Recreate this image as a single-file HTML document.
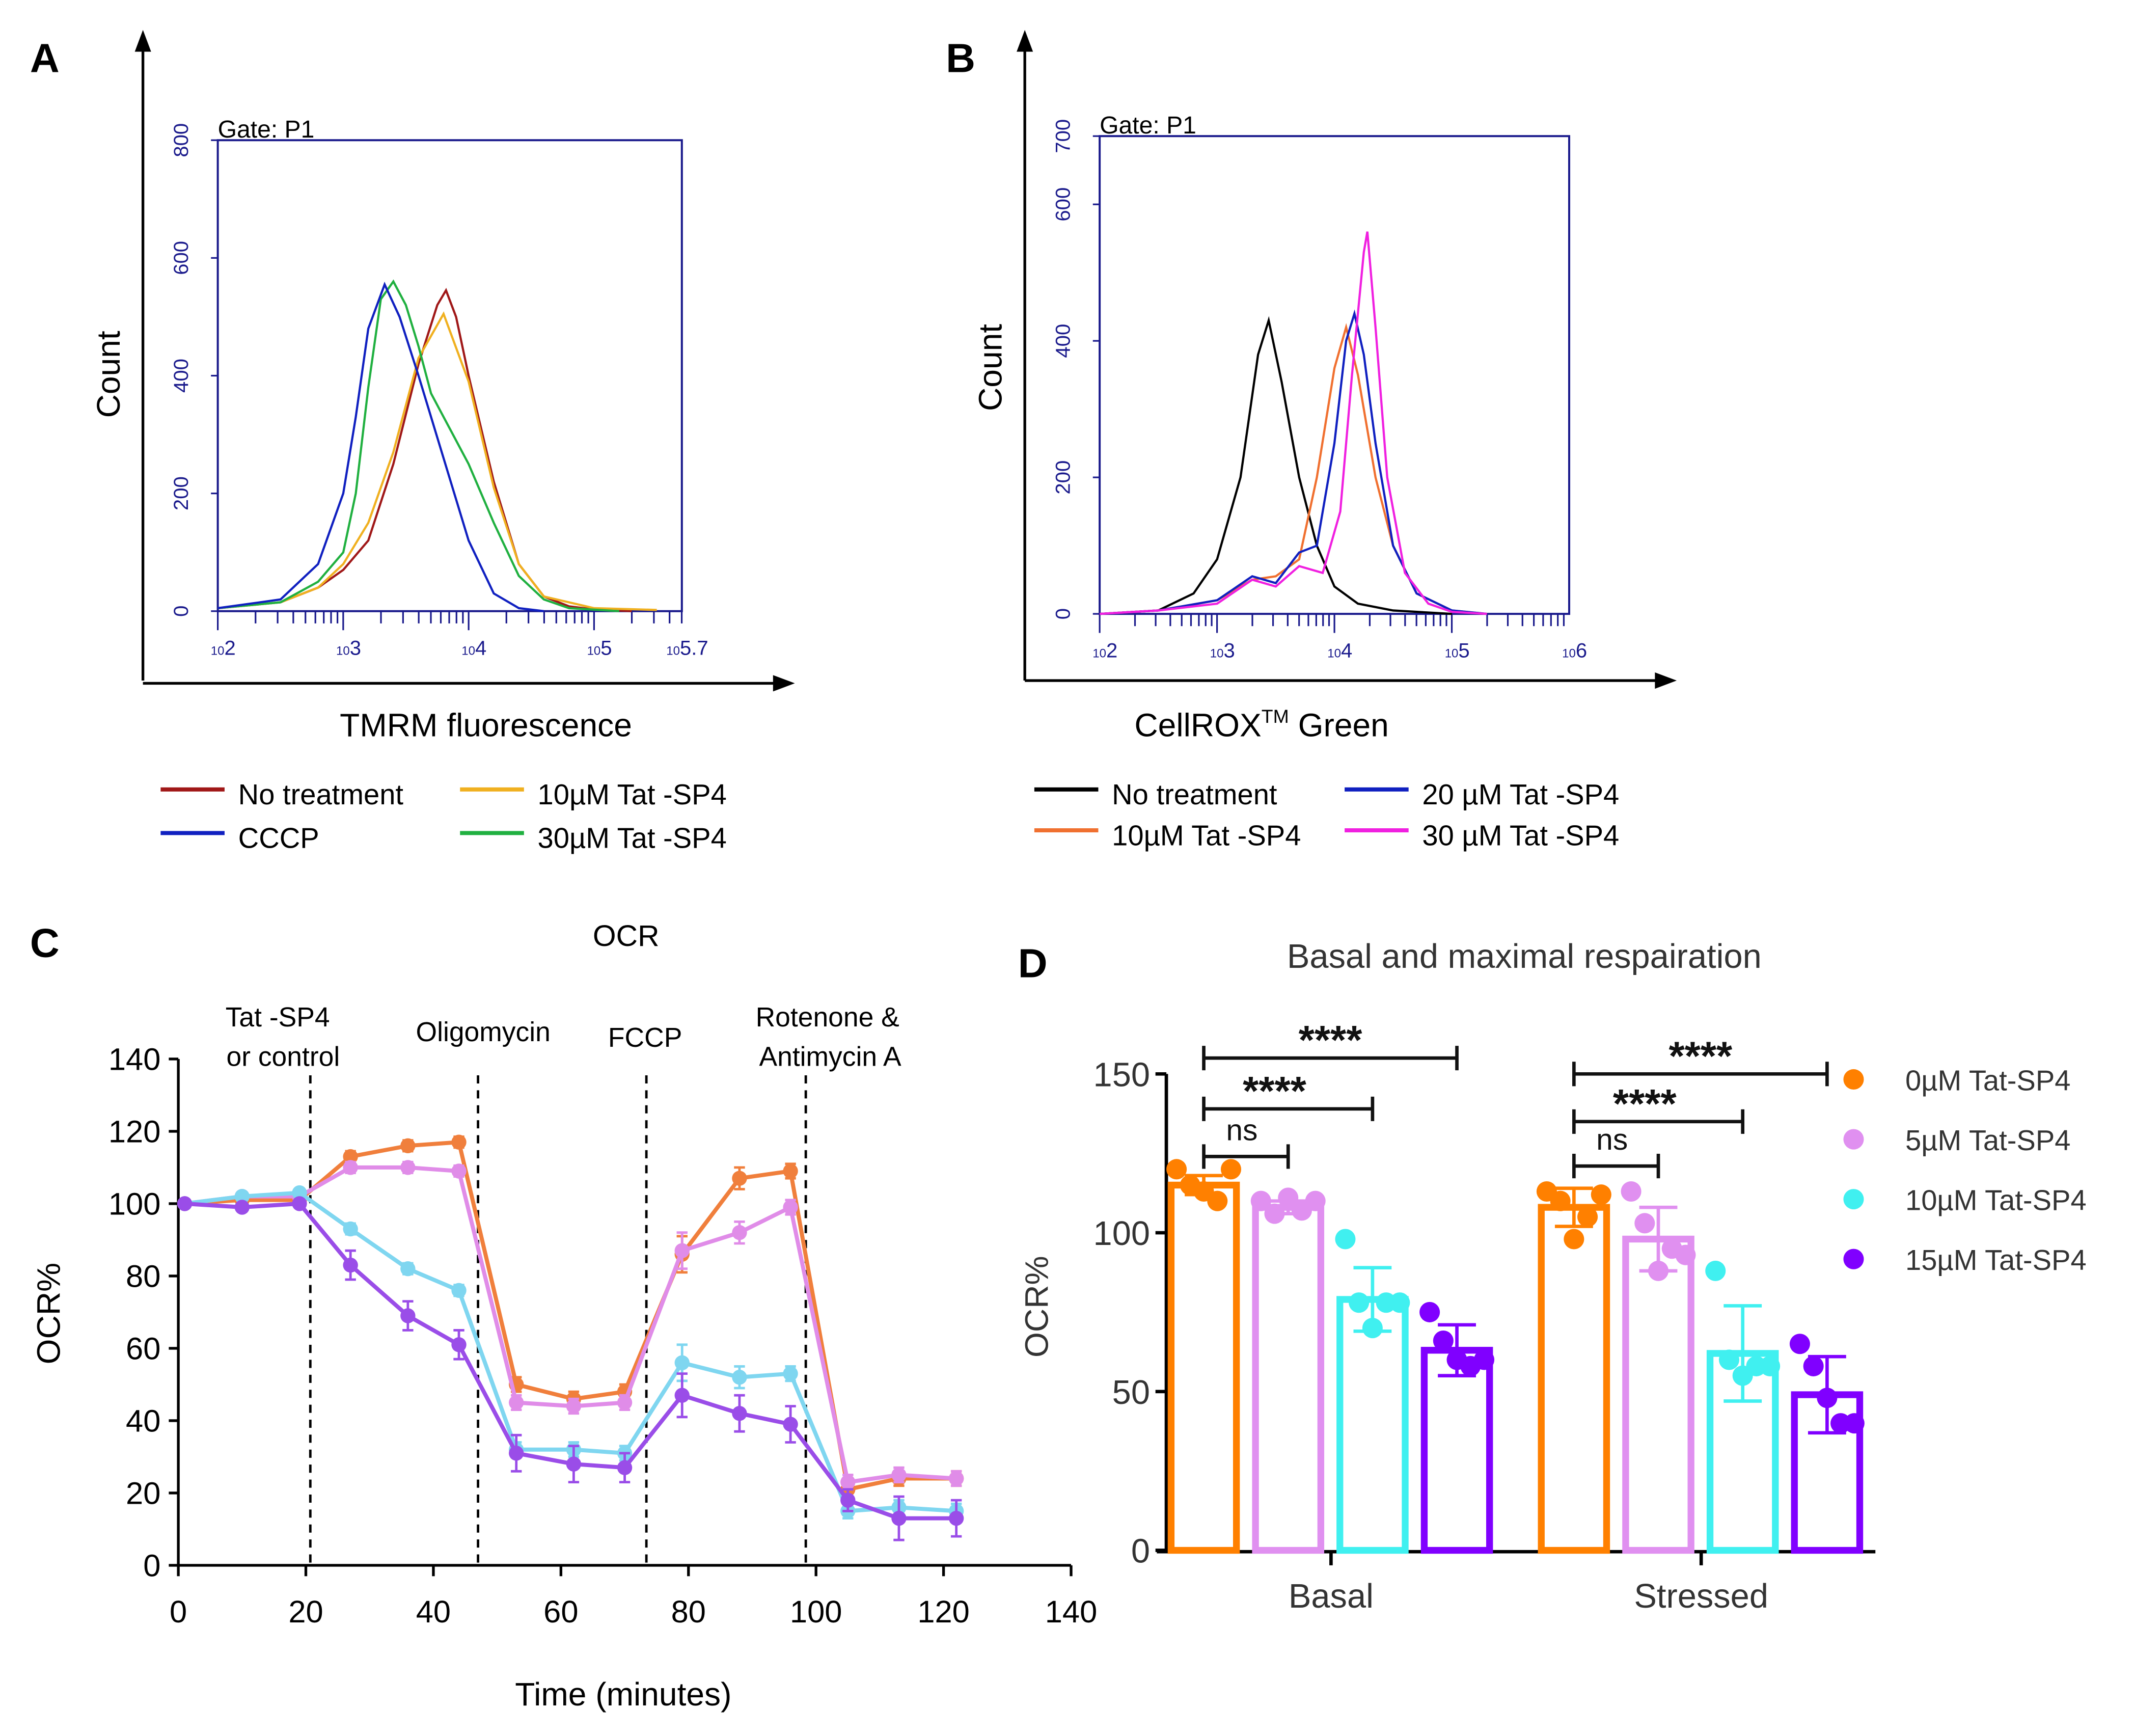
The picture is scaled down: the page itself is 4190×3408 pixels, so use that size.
<!DOCTYPE html>
<html><head><meta charset="utf-8"><style>
html,body{margin:0;padding:0;background:#fff;width:4190px;height:3408px;overflow:hidden}
svg{display:block;font-family:"Liberation Sans",sans-serif}
</style></head><body>
<svg id="fig" width="4190" height="3408" viewBox="0 0 1568 1275.4" xmlns="http://www.w3.org/2000/svg">
<rect width="1568" height="1276" fill="#fff"/>
<g id="A">
<text x="22" y="53" font-size="30" font-weight="bold">A</text>
<line x1="105" y1="500" x2="105" y2="35" stroke="#000" stroke-width="2"/><polygon points="99,38 105,22 111,38" fill="#000"/>
<line x1="105" y1="502" x2="570" y2="502" stroke="#000" stroke-width="2"/><polygon points="568,496 584,502 568,508" fill="#000"/>
<rect x="160" y="103" width="341" height="346" fill="none" stroke="#1a1a8c" stroke-width="1.5"/>
<text x="160" y="101" font-size="18">Gate: P1</text>
<text transform="translate(88,275) rotate(-90)" text-anchor="middle" font-size="24">Count</text>
<text x="357" y="541" text-anchor="middle" font-size="24">TMRM fluorescence</text>
</g>
<g id="B">
<text x="695" y="53" font-size="30" font-weight="bold">B</text>
<line x1="753" y1="500" x2="753" y2="35" stroke="#000" stroke-width="2"/><polygon points="747,38 753,22 759,38" fill="#000"/>
<line x1="753" y1="500" x2="1218" y2="500" stroke="#000" stroke-width="2"/><polygon points="1216,494 1232,500 1216,506" fill="#000"/>
<rect x="808" y="100" width="345" height="351" fill="none" stroke="#1a1a8c" stroke-width="1.5"/>
<text x="808" y="98" font-size="18">Gate: P1</text>
<text transform="translate(736,270) rotate(-90)" text-anchor="middle" font-size="24">Count</text>
<text x="927" y="541" text-anchor="middle" font-size="24">CellROX<tspan font-size="14" dy="-10">TM</tspan><tspan dy="10"> Green</tspan></text>
</g>
<g id="C">
<text x="22" y="703" font-size="30" font-weight="bold">C</text>
<text x="460" y="695" text-anchor="middle" font-size="22">OCR</text>
<text transform="translate(44,965) rotate(-90)" text-anchor="middle" font-size="24">OCR%</text>
<text x="458" y="1253" text-anchor="middle" font-size="24">Time (minutes)</text>
<text x="204" y="754" text-anchor="middle" font-size="20">Tat -SP4</text>
<text x="208" y="783" text-anchor="middle" font-size="20">or control</text>
<text x="355" y="765" text-anchor="middle" font-size="20">Oligomycin</text>
<text x="474" y="769" text-anchor="middle" font-size="20">FCCP</text>
<text x="608" y="754" text-anchor="middle" font-size="20">Rotenone &amp;</text>
<text x="610" y="783" text-anchor="middle" font-size="20">Antimycin A</text>
</g>
<g id="D">
<text x="748" y="718" font-size="30" font-weight="bold">D</text>
<text x="1120" y="711" text-anchor="middle" font-size="25" fill="#333">Basal and maximal respairation</text>
<text transform="translate(770,960) rotate(-90)" text-anchor="middle" font-size="24" fill="#333">OCR%</text>
</g>
</svg>
<script>
const NS='http://www.w3.org/2000/svg';
function mk(p,t,a){const e=document.createElementNS(NS,t);for(const k in a)e.setAttribute(k,a[k]);p.appendChild(e);return e;}
// ---------- Panel A data (log10 fluorescence, count) ----------
const aRedX=[2.0,2.5,2.8,3.0,3.2,3.4,3.6,3.75,3.82,3.9,4.0,4.2,4.4,4.6,4.8,5.0,5.3];
const aRedY=[5,15,40,70,120,250,420,520,545,500,400,220,80,25,8,3,0];
const aYelX=[2.0,2.5,2.8,3.0,3.2,3.4,3.6,3.8,4.0,4.2,4.4,4.6,5.0,5.5];
const aYelY=[5,15,40,80,150,270,430,505,390,210,80,25,5,2];
const aBluX=[2.0,2.5,2.8,3.0,3.1,3.2,3.33,3.45,3.6,3.8,4.0,4.2,4.4,4.6];
const aBluY=[5,20,80,200,330,480,555,500,400,260,120,30,5,0];
const aGrnX=[2.0,2.5,2.8,3.0,3.1,3.2,3.3,3.4,3.5,3.6,3.7,3.8,4.0,4.2,4.4,4.6,4.8,5.2];
const aGrnY=[5,15,50,100,200,380,530,560,520,450,370,330,250,150,60,20,5,0];
const aYTicks=[0,200,400,600,800];
const aXTicks=[2,3,4,5,5.7];
// ---------- Panel B data ----------
const bBlkX=[2.0,2.5,2.8,3.0,3.2,3.35,3.44,3.55,3.7,3.85,4.0,4.2,4.5,5.0];
const bBlkY=[0,5,30,80,200,380,430,340,200,100,40,15,5,0];
const bOrgX=[2.0,2.5,3.0,3.3,3.5,3.7,3.85,4.0,4.1,4.2,4.35,4.5,4.7,5.0,5.3];
const bOrgY=[0,5,20,50,55,80,200,360,420,350,200,100,30,5,0];
const bBluX=[2.0,2.5,3.0,3.3,3.5,3.7,3.85,4.0,4.1,4.17,4.25,4.35,4.5,4.7,5.0,5.3];
const bBluY=[0,5,20,55,45,90,100,250,400,440,380,250,100,30,5,0];
const bMagX=[2.0,2.5,3.0,3.3,3.5,3.7,3.9,4.05,4.15,4.25,4.28,4.35,4.45,4.6,4.8,5.0,5.3];
const bMagY=[0,5,15,50,40,70,60,150,350,530,560,420,200,60,15,3,0];
const bYTicks=[0,200,400,600,700];
const bXTicks=[2,3,4,5,6];
// ---------- Panel C data ----------
const cTimes=[1,10,19,27,36,44,53,62,70,79,88,96,105,113,122];
const cOrange=[100,101,101,113,116,117,50,46,48,86,107,109,21,24,24];
const cPink=[100,102,102,110,110,109,45,44,45,87,92,99,23,25,24];
const cCyan=[100,102,103,93,82,76,32,32,31,56,52,53,15,16,15];
const cPurple=[100,99,100,83,69,61,31,28,27,47,42,39,18,13,13];
const cErrOrange=[1,1,1,1.5,1.5,1.5,2,2,2,5,3,2,2,2,2];
const cErrPurple=[1,1,1,4,4,4,5,5,4,6,5,5,3,6,5];
const cInject=[20.7,47,73.4,98.4];
const cXTicks=[0,20,40,60,80,100,120,140];
const cYTicks=[0,20,40,60,80,100,120,140];
// ---------- Panel D data ----------
const dGroups=['Basal','Stressed'];
const dSeries=['0µM Tat-SP4','5µM Tat-SP4','10µM Tat-SP4','15µM Tat-SP4'];
const dBasal=[115,108,79,63];
const dStressed=[108,98,62,49];
const dSdBasal=[3,2,10,8];
const dSdStressed=[6,10,15,12];
const dPtsBasal=[[120,115,113,110,120],[110,106,111,107,110],[98,78,70,78,78],[75,66,60,58,60]];
const dPtsStressed=[[113,110,98,105,112],[113,103,88,95,93],[88,60,55,58,58],[65,58,48,40,40]];
const dYTicks=[0,50,100,150];
const dSigLabels=['ns','****','****'];
const dSigBasal=[124,139,155];
const dSigStressed=[121,135,150];

const svg=document.getElementById('fig');
function hist(gid,xs,ys,col,xf,yf,name){
  const g=document.getElementById(gid);
  let d='';xs.forEach((x,i)=>{d+=(i?'L':'M')+xf(x).toFixed(1)+','+yf(ys[i]).toFixed(1);});
  const p=mk(g,'path',{d:d,fill:'none',stroke:col,'stroke-width':1.6});
  
  
}
function flowAxes(gid,x0,x1,y0,y1,xt,yt,xmin,xmax,ymax){
  const g=document.getElementById(gid);
  const xf=v=>x0+(v-xmin)/(xmax-xmin)*(x1-x0);
  const yf=v=>y0-v/ymax*(y0-y1);
  yt.forEach(v=>{const y=yf(v);mk(g,'line',{x1:x0-5,y1:y,x2:x0,y2:y,stroke:'#1a1a8c','stroke-width':1.2});
    const t=mk(g,'text',{transform:`translate(${x0-22},${y}) rotate(-90)`,'text-anchor':'middle','font-size':15,fill:'#1a1a8c'});t.textContent=v;
    });
  for(let dcd=Math.floor(xmin);dcd<xmax;dcd++){for(let k=1;k<10;k++){const v=dcd+Math.log10(k);if(v>xmax)break;
    mk(g,'line',{x1:xf(v),y1:y0,x2:xf(v),y2:y0+(k==1?14:9),stroke:'#1a1a8c','stroke-width':1.2});}}
  xt.forEach(v=>{const t=mk(g,'text',{x:xf(v)+4,y:y0+32,'text-anchor':'middle','font-size':15,fill:'#1a1a8c'});
    t.innerHTML='<tspan font-size="9">10</tspan>'+v;
    });
  return [xf,yf];
}
let [axf,ayf]=flowAxes('A',160,501,449,103,aXTicks,aYTicks,2,5.7,800);
hist('A',aRedX,aRedY,'#a01818',axf,ayf,'series-no-treatment');
hist('A',aYelX,aYelY,'#f0b020',axf,ayf,'series-10um');
hist('A',aGrnX,aGrnY,'#20b040',axf,ayf,'series-30um');
hist('A',aBluX,aBluY,'#1020c0',axf,ayf,'series-cccp');
let [bxf,byf]=flowAxes('B',808,1153,451,100,bXTicks,bYTicks,2,6,700);
hist('B',bBlkX,bBlkY,'#000',bxf,byf,'series-no-treatment');
hist('B',bOrgX,bOrgY,'#f07030',bxf,byf,'series-10um');
hist('B',bBluX,bBluY,'#1020c0',bxf,byf,'series-20um');
hist('B',bMagX,bMagY,'#f020e0',bxf,byf,'series-30um');
function leg(gid,x,y,col,label,name){const g=document.getElementById(gid);
  mk(g,'line',{x1:x,y1:y,x2:x+47,y2:y,stroke:col,'stroke-width':3});
  const t=mk(g,'text',{x:x+57,y:y+11,'font-size':21});t.textContent=label;
  }
leg('A',118,580,'#a01818','No treatment','legend-no-treatment');
leg('A',118,612,'#1020c0','CCCP','legend-cccp');
leg('A',338,580,'#f0b020','10µM Tat -SP4','legend-10um');
leg('A',338,612,'#20b040','30µM Tat -SP4','legend-30um');
leg('B',760,580,'#000','No treatment','legend-no-treatment');
leg('B',760,610,'#f07030','10µM Tat -SP4','legend-10um');
leg('B',988,580,'#1020c0','20 µM Tat -SP4','legend-20um');
leg('B',988,610,'#f020e0','30 µM Tat -SP4','legend-30um');
// ---- Panel C ----
(function(){const g=document.getElementById('C');
  const xf=v=>131+v/140*(787-131), yf=v=>1150-v/140*(1150-778);
  mk(g,'line',{x1:131,y1:778,x2:131,y2:1151,stroke:'#000','stroke-width':2});
  mk(g,'line',{x1:130,y1:1150,x2:787,y2:1150,stroke:'#000','stroke-width':2});
  cYTicks.forEach(v=>{mk(g,'line',{x1:124,y1:yf(v),x2:131,y2:yf(v),stroke:'#000','stroke-width':2});
    const t=mk(g,'text',{x:118,y:yf(v)+8,'text-anchor':'end','font-size':23});t.textContent=v;
    });
  cXTicks.forEach(v=>{mk(g,'line',{x1:xf(v),y1:1150,x2:xf(v),y2:1158,stroke:'#000','stroke-width':2});
    const t=mk(g,'text',{x:xf(v),y:1192,'text-anchor':'middle','font-size':23});t.textContent=v;
    });
  cInject.forEach(v=>{const l=mk(g,'line',{x1:xf(v),y1:790,x2:xf(v),y2:1150,stroke:'#000','stroke-width':1.8,'stroke-dasharray':'6,5'});
    });
  const ser=[[cOrange,'#f07f3c',cErrOrange,'series-0um'],[cPink,'#e08ce8',cErrOrange,'series-5um'],[cCyan,'#7fd6f0',cErrOrange,'series-10um'],[cPurple,'#9a4de8',cErrPurple,'series-15um']];
  ser.forEach(([vals,col,err,name])=>{const sg=mk(g,'g',{});
    
    let d='';cTimes.forEach((t,i)=>{d+=(i?'L':'M')+xf(t)+','+yf(vals[i]);});
    mk(sg,'path',{d:d,fill:'none',stroke:col,'stroke-width':3});
    cTimes.forEach((t,i)=>{const x=xf(t),y1=yf(vals[i]+err[i]),y2=yf(vals[i]-err[i]);
      mk(sg,'line',{x1:x,y1:y1,x2:x,y2:y2,stroke:col,'stroke-width':1.8});
      mk(sg,'line',{x1:x-4,y1:y1,x2:x+4,y2:y1,stroke:col,'stroke-width':1.8});
      mk(sg,'line',{x1:x-4,y1:y2,x2:x+4,y2:y2,stroke:col,'stroke-width':1.8});
      const c=mk(sg,'circle',{cx:x,cy:yf(vals[i]),r:5.5,fill:col});
      });
  });
})();
// ---- Panel D ----
(function(){const g=document.getElementById('D');
  const yf=v=>1139-v/150*(1139-789);
  const cols=['#ff8000','#e090f0','#40f0f0','#8000ff'];
  const gx=[858,1130], bw=53, step=[62,62];
  mk(g,'line',{x1:857,y1:789,x2:857,y2:1141,stroke:'#000','stroke-width':2.5});
  mk(g,'line',{x1:850,y1:1140,x2:1378,y2:1140,stroke:'#000','stroke-width':2.5});
  dYTicks.forEach(v=>{mk(g,'line',{x1:849,y1:yf(v),x2:857,y2:yf(v),stroke:'#000','stroke-width':2.5});
    const t=mk(g,'text',{x:845,y:yf(v)+9,'text-anchor':'end','font-size':25,fill:'#333'});t.textContent=v;
    });
  [dBasal,dStressed].forEach((vals,gi)=>{const sd=gi?dSdStressed:dSdBasal, pts=gi?dPtsStressed:dPtsBasal, sig=gi?dSigStressed:dSigBasal;
    const cx0=gx[gi]+2*step[gi]-4;
    mk(g,'line',{x1:cx0,y1:1140,x2:cx0,y2:1150,stroke:'#000','stroke-width':2.5});
    const t=mk(g,'text',{x:cx0,y:1181,'text-anchor':'middle','font-size':25,fill:'#333'});t.textContent=dGroups[gi];
    
    vals.forEach((v,i)=>{const x=gx[gi]+i*step[gi], col=cols[i], cx=x+bw/2;
      const r=mk(g,'rect',{x:x+2.5,y:yf(v),width:bw-5,height:1139-yf(v),fill:'#fff',stroke:col,'stroke-width':5});
      
      const y1=yf(v+sd[i]),y2=yf(v-sd[i]);
      mk(g,'line',{x1:cx,y1:y1,x2:cx,y2:y2,stroke:col,'stroke-width':2.5});
      mk(g,'line',{x1:cx-14,y1:y1,x2:cx+14,y2:y1,stroke:col,'stroke-width':2.5});
      mk(g,'line',{x1:cx-14,y1:y2,x2:cx+14,y2:y2,stroke:col,'stroke-width':2.5});
      const offs=[-20,-10,0,10,20];
      pts[i].forEach((p,k)=>{const c=mk(g,'circle',{cx:cx+offs[k],cy:yf(p),r:7.5,fill:col});
        });
    });
    dSigLabels.forEach((lab,si)=>{const xa=gx[gi]+bw/2, xb=gx[gi]+(si+1)*step[gi]+bw/2, y=yf(sig[si]);
      mk(g,'line',{x1:xa,y1:y,x2:xb,y2:y,stroke:'#111','stroke-width':2.5});
      mk(g,'line',{x1:xa,y1:y-9,x2:xa,y2:y+9,stroke:'#111','stroke-width':2.5});
      mk(g,'line',{x1:xb,y1:y-9,x2:xb,y2:y+9,stroke:'#111','stroke-width':2.5});
      const lx= si==0 ? xa+28 : (si==1 ? (xa+xb)/2-10 : (xa+xb)/2);
      const t=mk(g,'text',{x:lx,y:y-(lab=='ns'?12:3),'text-anchor':'middle','font-size':lab=='ns'?22:30,'font-weight':lab=='ns'?'normal':'bold',fill:'#111'});
      t.textContent=lab;
      });
  });
  dSeries.forEach((s,i)=>{const y=793+i*44;
    mk(g,'circle',{cx:1362,cy:y,r:7.5,fill:cols[i]});
    const t=mk(g,'text',{x:1400,y:y+8,'font-size':21,fill:'#333'});t.textContent=s;
    });
})();
</script>
</body></html>
